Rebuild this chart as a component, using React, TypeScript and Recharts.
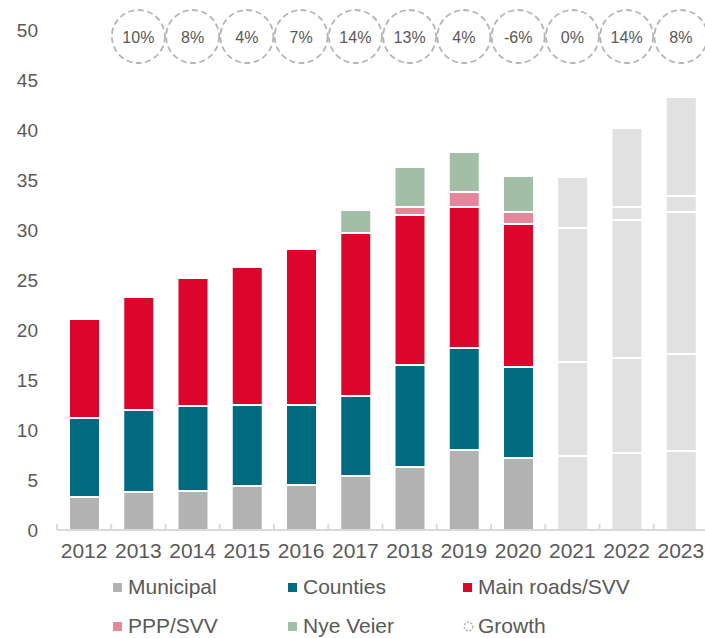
import React from 'react';
import { ComposedChart, Bar, Scatter, XAxis, YAxis, Cell } from 'recharts';

const years = ['2012', '2013', '2014', '2015', '2016', '2017', '2018', '2019', '2020', '2021', '2022', '2023'];
const municipal = [3.3, 3.8, 3.9, 4.4, 4.5, 5.4, 6.3, 8.0, 7.2, 7.4, 7.7, 7.9];
const counties = [7.9, 8.2, 8.5, 8.1, 8.0, 8.0, 10.2, 10.2, 9.1, 9.4, 9.5, 9.7];
const mainRoads = [9.9, 11.3, 12.8, 13.8, 15.6, 16.3, 15.0, 14.1, 14.3, 13.4, 13.8, 14.2];
const pppSvv = [0, 0, 0, 0, 0, 0, 0.8, 1.5, 1.2, 0, 1.3, 1.6];
const nyeVeier = [0, 0, 0, 0, 0, 2.3, 4.0, 4.0, 3.6, 5.1, 7.9, 9.9];
const growth = [null, 10, 8, 4, 7, 14, 13, 4, -6, 0, 14, 8];
const forecastFrom = '2021';
const yTicks = [0, 5, 10, 15, 20, 25, 30, 35, 40, 45, 50];

const data = years.map((year, i) => ({
  year,
  municipal: municipal[i],
  counties: counties[i],
  mainRoads: mainRoads[i],
  pppSvv: pppSvv[i],
  nyeVeier: nyeVeier[i],
  growth: growth[i],
}));

const FONT = '"Liberation Sans", Arial, sans-serif';
const TEXT = '#595959';
const AXIS = '#d9d9d9';
const FORECAST = '#e1e1e1';
const CHART_W = 712;
const PLOT_W = CHART_W - 57 - 4;
const BAND = PLOT_W / years.length;
const GROWTH_Y = 49.35;

const series = [
  { key: 'municipal', name: 'Municipal', color: '#b2b2b2' },
  { key: 'counties', name: 'Counties', color: '#006a7e' },
  { key: 'mainRoads', name: 'Main roads/SVV', color: '#dc052b' },
  { key: 'pppSvv', name: 'PPP/SVV', color: '#e4879b' },
  { key: 'nyeVeier', name: 'Nye Veier', color: '#a3bea6' },
];

const isForecast = (year: string) => years.indexOf(year) >= years.indexOf(forecastFrom);

// category labels plus the small boundary ticks between categories
const YearTick = (props: any) => {
  const { x, y, payload } = props;
  const bx = x - BAND / 2;
  return (
    <g>
      <line x1={bx} x2={bx} y1={y} y2={y - 6} stroke={AXIS} strokeWidth={2} />
      <text x={x} y={y + 28} textAnchor="middle" fill={TEXT} fontSize={21} fontFamily={FONT}>
        {payload.value}
      </text>
    </g>
  );
};

const GrowthBubble = (props: any) => {
  const { cx, cy, payload } = props;
  if (payload.growth === null || payload.growth === undefined) return <g />;
  return (
    <g>
      <circle cx={cx} cy={cy} r={26.5} fill="none" stroke="#b4b4b4" strokeWidth={1.8} strokeDasharray="6 3.5" />
      <text x={cx} y={cy + 6} textAnchor="middle" fill={TEXT} fontSize={16} fontFamily={FONT}>
        {payload.growth}%
      </text>
    </g>
  );
};

const legendItems = [
  { name: 'Municipal', color: '#b2b2b2', col: 0, row: 0 },
  { name: 'Counties', color: '#006a7e', col: 1, row: 0 },
  { name: 'Main roads/SVV', color: '#dc052b', col: 2, row: 0 },
  { name: 'PPP/SVV', color: '#e4879b', col: 0, row: 1 },
  { name: 'Nye Veier', color: '#a3bea6', col: 1, row: 1 },
  { name: 'Growth', color: '', col: 2, row: 1 },
];

const ChartLegend = () => (
  <>
    {legendItems.map((item) => (
      <div
        key={item.name}
        style={{
          position: 'absolute',
          left: 113 + item.col * 175,
          top: 587 + item.row * 39 - 12,
          height: 24,
          lineHeight: '24px',
          display: 'flex',
          alignItems: 'center',
          fontSize: 21,
          color: TEXT,
          fontFamily: FONT,
          whiteSpace: 'nowrap',
        }}
      >
        {item.color ? (
          <div style={{ width: 9, height: 9, background: item.color, marginRight: 6 }} />
        ) : (
          <svg width={11} height={11} style={{ marginRight: 4 }}>
            <circle cx={5.5} cy={5.5} r={4.3} fill="none" stroke="#b4b4b4" strokeWidth={1.4} strokeDasharray="2.2 1.4" />
          </svg>
        )}
        <span>{item.name}</span>
      </div>
    ))}
  </>
);

export default function App() {
  return (
    <div style={{ position: 'absolute', left: 0, top: 0, width: 705, height: 638, overflow: 'hidden', background: '#fff', fontFamily: FONT }}>
      <ComposedChart width={CHART_W} height={580} data={data} margin={{ top: 30, right: 4, left: 0, bottom: 10 }}>
        <XAxis
          dataKey="year"
          height={40}
          axisLine={{ stroke: AXIS, strokeWidth: 2 }}
          tickLine={false}
          tickSize={0}
          tickMargin={0}
          interval={0}
          tick={<YearTick />}
        />
        <YAxis
          width={57}
          domain={[0, 50]}
          ticks={yTicks}
          axisLine={false}
          tickLine={false}
          tickSize={0}
          tickMargin={19}
          tick={{ fill: TEXT, fontSize: 19, fontFamily: FONT }}
        />
        {series.map((s) => (
          <Bar
            key={s.key}
            dataKey={s.key}
            name={s.name}
            stackId="a"
            barSize={31}
            fill={s.color}
            stroke="#ffffff"
            strokeWidth={2}
            isAnimationActive={false}
          >
            {data.map((d) => (
              <Cell key={d.year} fill={isForecast(d.year) ? FORECAST : s.color} />
            ))}
          </Bar>
        ))}
        <Scatter dataKey={() => GROWTH_Y} shape={<GrowthBubble />} isAnimationActive={false} />
      </ComposedChart>
      <ChartLegend />
    </div>
  );
}
